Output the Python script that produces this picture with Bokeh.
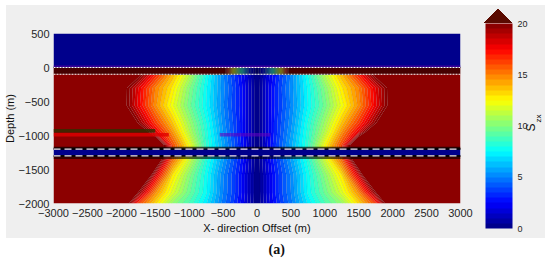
import math
import numpy as np
from bokeh.embed import file_html
from bokeh.resources import INLINE
from bokeh.plotting import figure
from bokeh.models import ColorBar, FixedTicker, LinearAxis, LinearColorMapper, Title
from bokeh.core.properties import field

# ---------- data ----------
x_ticks = [-3000, -2500, -2000, -1500, -1000, -500, 0, 500, 1000, 1500, 2000, 2500, 3000]
y_ticks = [500, 0, -500, -1000, -1500, -2000]
cbar_ticks = [0, 5, 10, 15, 20]

offsets = [0, 125, 250, 375, 500, 750, 1000, 1250, 1500, 1750, 2000, 2500, 3000]

air      = [0, 0, 0, 0, 0, 0, 0, 0, 0, 0, 0, 0, 0]
surface  = [1.0, 3.5, 8.5, 13.5, 22, 40, 40, 40, 40, 40, 40, 40, 40]
d_110    = [0, 1.4, 2.7, 3.9, 5.1, 7.9, 11.1, 13.9, 16.9, 20.5, 25, 40, 40]
d_300    = [0, 1.5, 2.9, 4.1, 5.2, 7.6, 10.1, 12.9, 15.0, 18.0, 21, 40, 40]
d_560    = [0, 1.5, 2.9, 4.0, 5.1, 7.5, 9.7, 12.2, 14.7, 17.8, 21, 40, 40]
d_810    = [0, 1.5, 3.0, 4.2, 5.3, 8.0, 10.6, 13.6, 16.4, 19.8, 24, 40, 40]
d_950    = [0, 1.5, 3.0, 4.3, 5.5, 8.2, 11.1, 14.6, 18.0, 23, 30, 40, 40]
d_1140   = [0, 1.6, 3.2, 4.5, 5.8, 8.4, 12.4, 16.2, 24, 30, 40, 40, 40]
core     = [0, 0, 0, 0, 0, 0, 0, 0, 0, 0, 0, 0, 0]
d_1350   = [0, 1.6, 3.1, 4.4, 5.6, 8.2, 11.6, 15.5, 23, 30, 40, 40, 40]
d_1580   = [0, 1.4, 2.8, 4.0, 5.1, 7.7, 10.2, 13.0, 18.3, 26, 35, 40, 40]
d_1840   = [0, 1.4, 2.8, 4.0, 5.0, 7.6, 9.6, 11.8, 14.7, 19.9, 26, 40, 40]
d_2000   = [0, 1.3, 2.6, 3.8, 4.8, 7.1, 8.9, 10.4, 13.2, 16.3, 23, 40, 40]

depths = [-2000, -1840, -1580, -1350, -1301, -1300, -1200, -1199, -1140, -950, -810, -560, -300, -110, -101, -100, 0, 1, 500]
rows = [d_2000, d_1840, d_1580, d_1350, d_1350, core, core, d_1140, d_1140, d_950, d_810, d_560, d_300, d_110, d_110,
        surface, surface, air, air]

# ---------- colours ----------
jet_t = [0, 0.125, 0.375, 0.625, 0.875, 1]
jet_r = [0, 0, 0, 255, 255, 128]
jet_g = [0, 0, 255, 255, 0, 0]
jet_b = [128, 255, 255, 0, 0, 0]
def jet(t):
    return "#%02x%02x%02x" % (int(np.interp(t, jet_t, jet_r)), int(np.interp(t, jet_t, jet_g)), int(np.interp(t, jet_t, jet_b)))
bands = [jet((i + .5) / 40) for i in range(40)]
levels = [-1] + [0.5 * i for i in range(1, 41)] + [100]
fills = bands + [bands[-1]]

# ---------- figure ----------
F = "Liberation Sans"
INK = "#262626"
half = np.array(rows, dtype=float)
z = np.hstack([half[:, :0:-1], half])
x = [-o for o in offsets[:0:-1]] + offsets

FL, FR, FT, FB = 52, 462, 33, 203   # canvas position of the frame
W, H = 550, 261
def dy(c): return 500 - (c - FT) * 2500 / (FB - FT)

panel = "linear-gradient(#efefef,#efefef) 6px 5px / 539px 233px no-repeat"
arrow_l = "linear-gradient(to top left, #5a0a00 50%, transparent 51%) 484px 9px / 14px 14px no-repeat"
arrow_r = "linear-gradient(to top right, #5a0a00 50%, transparent 51%) 498px 9px / 14px 14px no-repeat"

p = figure(width=W, height=H, x_range=(-3000, 3000), y_range=(-2000, 500),
           output_backend="svg", toolbar_location=None,
           min_border_left=FL, min_border_right=W - FR, min_border_top=FT, min_border_bottom=H - FB)
p.border_fill_alpha = 0
p.background_fill_alpha = 0
p.styles = {"background": ", ".join([arrow_l, arrow_r, panel])}
p.outline_line_color = None
p.grid.visible = False

r = p.contour(x, depths, z, levels, fill_color=fills, line_color="black", line_alpha=0.15, line_width=0.5)
r.fill_renderer.glyph.line_color = field("fill_color")
r.fill_renderer.glyph.line_width = 0.8

# dark shading along the layers and the dashed/dotted interfaces
p.quad(left=-3000, right=3000, bottom=-100, top=0, fill_color="black", fill_alpha=0.5, line_color=None)
p.quad(left=-3000, right=3000, bottom=0, top=30, fill_color="#4a00a0", fill_alpha=0.8, line_color=None)
p.quad(left=-3000, right=3000, bottom=-1200, top=-1165, fill_color="black", fill_alpha=0.7, line_color=None)
p.quad(left=-3000, right=3000, bottom=-1345, top=-1300, fill_color="black", fill_alpha=0.6, line_color=None)
p.quad(left=-3000, right=-1500, bottom=-955, top=-905, fill_color="#303000", fill_alpha=0.8, line_color=None)
p.quad(left=-3000, right=-1300, bottom=-1015, top=-965, fill_color="#e00000", fill_alpha=0.8, line_color=None)
p.quad(left=-550, right=200, bottom=-1015, top=-965, fill_color="#6000c0", fill_alpha=0.6, line_color=None)

for d in (0, -100):
    p.line([-3000, 3000], [d, d], line_color="white", line_width=1.1, line_dash="2 1")
for d in (-1200, -1300):
    p.line([-3000, 3000], [d, d], line_color="#f2e4f4", line_width=1.3, line_dash="7 4")

# axes
def style(ax, size="11px"):
    ax.axis_line_color = None
    ax.major_tick_line_color = None
    ax.minor_tick_line_color = None
    ax.major_tick_out = 0
    ax.major_tick_in = 0
    ax.major_label_text_font = F
    ax.major_label_text_font_size = size
    ax.major_label_text_color = INK
    ax.axis_label_text_font = F
    ax.axis_label_text_font_size = "11px"
    ax.axis_label_text_font_style = "normal"
    ax.axis_label_text_color = "#111111"
for ax, ticks in ((p.xaxis[0], x_ticks), (p.yaxis[0], y_ticks)):
    ax.ticker = FixedTicker(ticks=ticks)
    style(ax)
p.xaxis[0].axis_label = "X- direction Offset (m)"
p.xaxis[0].major_label_standoff = 5
p.xaxis[0].axis_label_standoff = 2
p.yaxis[0].axis_label = "Depth (m)"
p.yaxis[0].major_label_standoff = 4
p.yaxis[0].axis_label_standoff = 0

# colour bar
mapper = LinearColorMapper(palette=bands, low=0, high=20)
cb = ColorBar(color_mapper=mapper, ticker=FixedTicker(ticks=cbar_ticks), width=27, height=205,
              location=(432, -25), major_tick_line_color=None, minor_tick_line_color=None, bar_line_color=None,
              major_label_text_font=F, major_label_text_font_size="9px", major_label_text_color=INK,
              label_standoff=5, padding=0, background_fill_alpha=0, border_line_color=None)
p.add_layout(cb, "center")

# colour-bar title, S with subscript zx, set as two rotated labels on the right
s_tick = dy(131)
zx_tick = dy(122)
a2 = LinearAxis(ticker=FixedTicker(ticks=[zx_tick]), major_label_overrides={zx_tick: "zx"},
                major_label_orientation=math.pi / 2, major_label_standoff=78)
style(a2, "8px")
a2.major_label_text_color = "#111111"
p.add_layout(a2, "right")
a1 = LinearAxis(ticker=FixedTicker(ticks=[s_tick]), major_label_overrides={s_tick: "S"},
                major_label_orientation=math.pi / 2, major_label_standoff=-20)
style(a1, "12px")
a1.major_label_text_color = "#111111"
p.add_layout(a1, "right")

p.add_layout(Title(text="(a)", align="left", offset=215, standoff=7, text_font="Liberation Serif",
                   text_font_size="14px", text_font_style="bold", text_color="#111111"), "below")

open("out.html", "w").write(file_html(p, INLINE))
